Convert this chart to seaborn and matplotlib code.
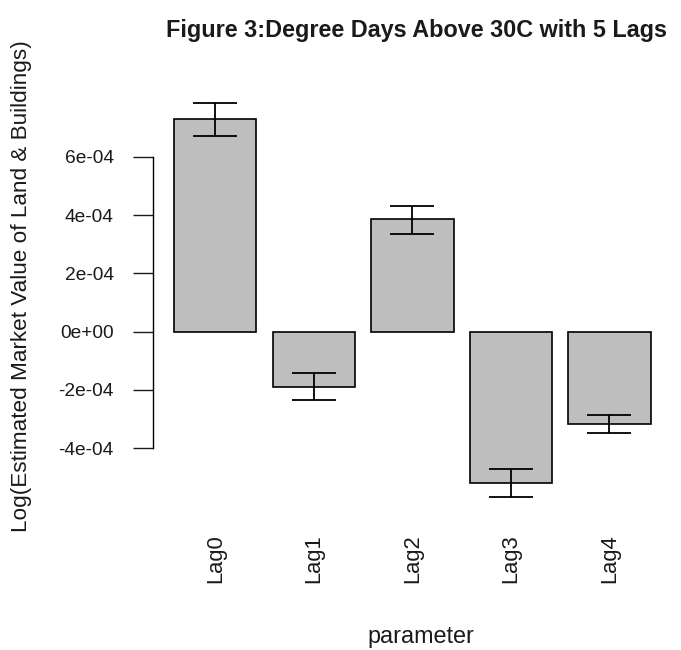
import matplotlib
matplotlib.use('Agg')
import matplotlib.pyplot as plt
import seaborn as sns
import pandas as pd
import numpy as np

# values
lags = ['Lag0', 'Lag1', 'Lag2', 'Lag3', 'Lag4']
estimate = [7.29e-4, -1.89e-4, 3.86e-4, -5.18e-4, -3.17e-4]
ci_low = [6.71e-4, -2.34e-4, 3.36e-4, -5.66e-4, -3.49e-4]
ci_high = [7.86e-4, -1.41e-4, 4.31e-4, -4.70e-4, -2.86e-4]
yticks = [-4e-4, -2e-4, 0, 2e-4, 4e-4, 6e-4]
ytick_labels = ['-4e-04', '-2e-04', '0e+00', '2e-04', '4e-04', '6e-04']

sns.set_style('white')
plt.rcParams['font.family'] = ['Liberation Sans', 'DejaVu Sans']
plt.rcParams['text.color'] = '#1a1a1a'
plt.rcParams['xtick.color'] = '#1a1a1a'
plt.rcParams['ytick.color'] = '#1a1a1a'

df = pd.DataFrame({'parameter': lags, 'estimate': estimate})

fig = plt.figure(figsize=(6.81, 6.5), dpi=100)
ax = fig.add_axes([153 / 681, 0.2, 1 - 153 / 681, 440 / 650])

sns.barplot(data=df, x='parameter', y='estimate', order=lags, color='#bebebe',
            saturation=1, width=1 / 1.2, edgecolor='black', linewidth=1.2, ax=ax)

pos = np.arange(len(lags))
est = np.array(estimate)
ax.errorbar(pos, est, yerr=[est - np.array(ci_low), np.array(ci_high) - est],
            fmt='none', ecolor='black', elinewidth=1.3, capsize=16, capthick=1.3)

ax.set_xlim(-0.634, 4.726)
ax.set_ylim(-6.464e-4, 8.641e-4)
ax.set_yticks(yticks)
ax.set_yticklabels(ytick_labels)
ax.tick_params(axis='y', length=14.4, width=1.0, pad=14, labelsize=13.8, left=True)
ax.tick_params(axis='x', length=0, pad=10, labelsize=15.8, rotation=90)
for lbl in ax.get_xticklabels():
    lbl.set_va('top')
ax.set_xlabel('')
ax.set_ylabel('')
for s in ['top', 'right', 'bottom']:
    ax.spines[s].set_visible(False)
ax.spines['left'].set_bounds(-4e-4, 6e-4)
ax.spines['left'].set_color('black')
ax.spines['left'].set_linewidth(1.0)

fig.text(416 / 681, 1 - 31 / 650, 'Figure 3:Degree Days Above 30C with 5 Lags',
         ha='center', va='center', fontsize=16.8, fontweight='bold')
fig.text(22 / 681, 1 - 286 / 650, 'Log(Estimated Market Value of Land & Buildings)',
         ha='center', va='center', rotation=90, fontsize=16.2)
fig.text(421 / 681, 1 - 637 / 650, 'parameter', ha='center', va='center', fontsize=16.8)

fig.savefig('out.png', dpi=100)
plt.close(fig)
